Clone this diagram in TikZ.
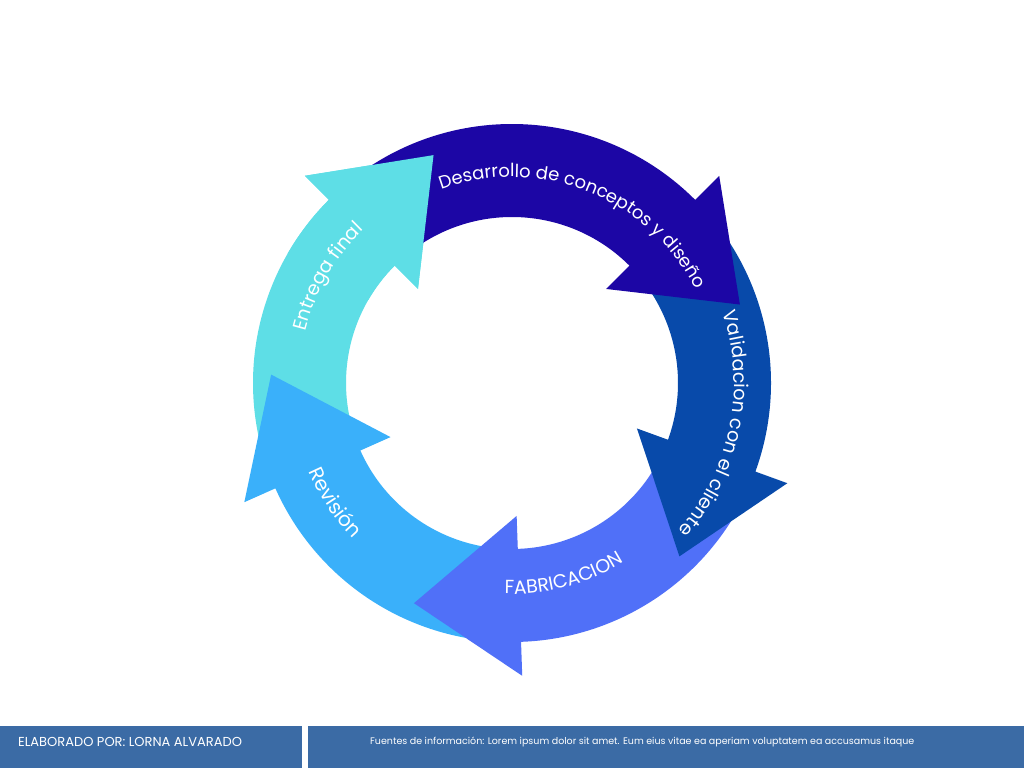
\documentclass[tikz,border=0pt]{standalone}
\usepackage{fontspec}
\setmainfont{Poppins}
\usetikzlibrary{decorations.text}
\definecolor{cD}{RGB}{28,6,165}
\definecolor{cV}{RGB}{8,74,170}
\definecolor{cF}{RGB}{80,112,248}
\definecolor{cR}{RGB}{58,176,250}
\definecolor{cE}{RGB}{94,222,230}
\definecolor{cFoot}{RGB}{59,107,165}
\newcommand\cyclearrow[3]{% colour, tail angle, base angle
  \fill[#1] (#2:259) arc[start angle=#2, end angle=#3, radius=259]
    -- (#3:293) -- ({#3-26}:241) -- (#3:133) -- (#3:166)
    arc[start angle=#3, end angle=#2, radius=166] -- cycle;}
\tikzset{
  arctext/.style={decorate, decoration={text along path, text align=center, text color=white, text={#1}}},
  foottext/.style={anchor=west, text=white, inner sep=0pt}
}
\begin{document}
\begin{tikzpicture}[x=1pt,y=1pt]
\useasboundingbox (0,0) rectangle (1024,768);
\fill[white] (0,0) rectangle (1024,768);
\coordinate (C) at (512,385);
\begin{scope}[shift={(C)}]
  \cyclearrow{cE}{195}{135}
  \cyclearrow{cR}{264}{204}
  \cyclearrow{cF}{-29}{-88}
  \cyclearrow{cV}{36}{-20}
  \cyclearrow{cD}{126}{45}
  % head of Entrega final lies over the tail of the first arrow
  \fill[cE] (150:259) arc[start angle=150, end angle=135, radius=259]
    -- (135:293) -- (109:241) -- (135:133) -- (135:166)
    arc[start angle=135, end angle=150, radius=166] -- cycle;
  % texts
  \path[arctext={|\fontsize{18}{18}\selectfont|Desarrollo de conceptos y diseño}]
    (128.5:206) arc[start angle=128.5, end angle=8.5, radius=206];
  \path[arctext={|\fontsize{19}{19}\selectfont|Validacion con el cliente}]
    (48.5:222) arc[start angle=48.5, end angle=-71.5, radius=222];
  \path[arctext={|\fontsize{19}{19}\selectfont|FABRICACION}]
    (-135:211) arc[start angle=-135, end angle=-15, radius=211];
  \path[arctext={|\fontsize{20}{20}\selectfont|Revisión}]
    (154:222) arc[start angle=154, end angle=274, radius=222];
  \path[arctext={|\fontsize{19}{19}\selectfont|Entrega final}]
    (210:213) arc[start angle=210, end angle=90, radius=213];
\end{scope}
% footer
\fill[cFoot] (0,0) rectangle (302,42);
\fill[cFoot] (308,0) rectangle (1024,42);
\node[foottext, font=\fontsize{13}{15}\selectfont] (elab) at (18,26) {ELABORADO POR: LORNA ALVARADO};
\node[foottext, font=\fontsize{9.5}{11}\selectfont] (fuentes) at (370,26) {Fuentes de información: Lorem ipsum dolor sit amet. Eum eius vitae ea aperiam voluptatem ea accusamus itaque};
\end{tikzpicture}
\end{document}
